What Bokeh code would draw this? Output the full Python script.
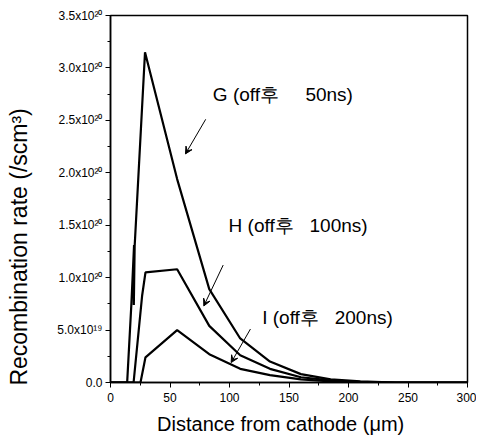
import math
from bokeh.plotting import figure
from bokeh.models import (Label, Arrow, VeeHead, FixedTicker, CustomJSTickFormatter)
from bokeh.embed import file_html
from bokeh.resources import INLINE

# Distance from cathode (um) and recombination rate (units of 1e20 /scm^3)
g_x = [0, 14, 17.6, 19.8, 18.4, 19.9, 19.6, 20.3, 29, 56, 83, 109, 134, 160, 185, 210, 240, 300]
g_y = [0, 0, 0.76, 1.31, 0.86, 1.22, 0.74, 1.30, 3.15, 1.94, 0.89, 0.42, 0.20, 0.08, 0.03, 0.01, 0, 0]

h_x = [0, 19.4, 26.6, 29.4, 56, 83, 109, 134, 160, 185, 210, 240, 300]
h_y = [0, 0, 0.83, 1.05, 1.08, 0.54, 0.26, 0.13, 0.05, 0.02, 0.005, 0, 0]

i_x = [0, 25.2, 29.4, 56, 83, 109, 134, 160, 185, 210, 300]
i_y = [0, 0, 0.24, 0.50, 0.27, 0.13, 0.07, 0.03, 0.01, 0, 0]

y_ticks = [0, 0.5, 1.0, 1.5, 2.0, 2.5, 3.0, 3.5]
y_tick_labels = ["0.0", "5.0x10¹⁹", "1.0x10²⁰", "1.5x10²⁰", "2.0x10²⁰",
                 "2.5x10²⁰", "3.0x10²⁰", "3.5x10²⁰"]
x_ticks = [0, 50, 100, 150, 200, 250, 300]

FONT = "Liberation Sans"
NB = "\u00a0"
SP = " " + NB * 2

p = figure(width=476, height=442, x_range=(0, 300), y_range=(0, 3.5),
           output_backend="svg", toolbar_location=None,
           min_border_left=110, min_border_right=9, min_border_top=15,
           min_border_bottom=60)
p.xgrid.visible = False
p.ygrid.visible = False
p.outline_line_color = "black"
p.outline_line_width = 1.5
p.background_fill_color = "white"
p.border_fill_color = "white"

for xs, ys in [(g_x, g_y), (h_x, h_y), (i_x, i_y)]:
    p.line(xs, ys, line_color="black", line_width=2.2)

p.xaxis.ticker = FixedTicker(ticks=x_ticks, minor_ticks=list(range(0, 301, 25)))
p.yaxis.ticker = FixedTicker(ticks=y_ticks, minor_ticks=[k * 0.25 for k in range(15)])
p.yaxis.formatter = CustomJSTickFormatter(
    args=dict(tvals=y_ticks, tlabels=y_tick_labels),
    code="const i = tvals.findIndex(t => Math.abs(t - tick) < 1e-6); return i >= 0 ? tlabels[i] : '';")

for ax in (p.xaxis[0], p.yaxis[0]):
    ax.axis_line_width = 1.5
    ax.axis_line_color = "black"
    ax.major_tick_line_color = "black"
    ax.minor_tick_line_color = "black"
    ax.major_tick_in = 0
    ax.major_tick_out = 5
    ax.minor_tick_in = 0
    ax.minor_tick_out = 3
    ax.major_label_text_font = FONT
    ax.major_label_text_font_size = "12px"
    ax.major_label_text_color = "black"
    ax.axis_label_text_font = FONT
    ax.axis_label_text_font_style = "normal"
    ax.axis_label_text_color = "black"
p.yaxis.major_label_standoff = 3

# axis titles (trailing no-break spaces shift the visible text off-centre as in the original)
p.xaxis.axis_label = "Distance from cathode (μm)" + NB * 3
p.xaxis.axis_label_text_font_size = "20px"
p.xaxis.axis_label_standoff = 8
p.yaxis.axis_label = "Recombination rate (/scm³)" + NB * 15
p.yaxis.axis_label_text_font_size = "23px"
p.yaxis.axis_label_standoff = 22

notes = [("G (off후" + SP + NB * 2 + "50ns)", 86.0, 2.75, (80, 2.51), (63, 2.18)),
         ("H (off후" + SP + "100ns)", 99.2, 1.50, (94.7, 1.12), (78.4, 0.73)),
         ("I (off후" + SP + "200ns)", 127.5, 0.62, (117.6, 0.51), (101.4, 0.19))]
for txt, tx, ty, a0, a1 in notes:
    p.add_layout(Label(x=tx, y=ty, text=txt, text_font=FONT,
                       text_font_size="19px", text_baseline="middle",
                       text_align="left", text_color="black"))
    p.add_layout(Arrow(x_start=a0[0], y_start=a0[1], x_end=a1[0], y_end=a1[1],
                       line_width=1, line_color="black",
                       end=VeeHead(size=7, line_width=1, line_color="black",
                                   fill_color="black")))

open("out.html", "w").write(file_html(p, INLINE))
